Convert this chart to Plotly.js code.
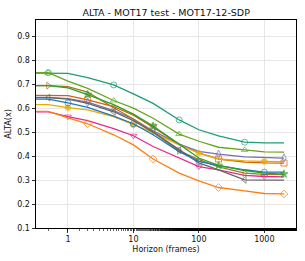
<!DOCTYPE html>
<html>
<head>
<meta charset="utf-8">
<script src="https://cdn.plot.ly/plotly-3.0.1.min.js"></script>
<style>html,body{margin:0;padding:0;background:#fff;}#chart{width:305px;height:261px;}</style>
</head>
<body>
<div id="chart"></div>
<script>
// Horizons (frames); the first value at horizon 0 is clipped to the left edge on a log axis
const horizons = [0.5, 1, 2, 5, 10, 20, 50, 100, 200, 500, 1000, 2000];

const seriesNames = ["teal", "orangeRed", "purple", "pink", "lime", "yellow", "brown", "gray", "blue", "orange", "green"];

const tealVals      = [0.748, 0.745, 0.728, 0.697, 0.660, 0.620, 0.551, 0.510, 0.484, 0.458, 0.455, 0.455];
const orangeRedVals = [0.655, 0.652, 0.635, 0.607, 0.571, 0.521, 0.450, 0.413, 0.388, 0.375, 0.372, 0.371];
const purpleVals    = [0.645, 0.640, 0.625, 0.590, 0.555, 0.505, 0.450, 0.420, 0.408, 0.397, 0.394, 0.392];
const pinkVals      = [0.585, 0.565, 0.548, 0.515, 0.485, 0.440, 0.394, 0.356, 0.343, 0.320, 0.315, 0.313];
const limeVals      = [0.748, 0.713, 0.683, 0.632, 0.600, 0.558, 0.492, 0.462, 0.437, 0.426, 0.418, 0.417];
const yellowVals    = [0.615, 0.602, 0.593, 0.565, 0.530, 0.498, 0.447, 0.413, 0.388, 0.380, 0.378, 0.377];
const brownVals     = [0.694, 0.690, 0.667, 0.602, 0.555, 0.500, 0.422, 0.385, 0.355, 0.329, 0.324, 0.323];
const grayVals      = [0.644, 0.638, 0.620, 0.585, 0.548, 0.500, 0.425, 0.372, 0.343, 0.301, 0.300, 0.300];
const blueVals      = [0.638, 0.622, 0.603, 0.567, 0.535, 0.489, 0.419, 0.378, 0.360, 0.343, 0.333, 0.333];
const orangeVals    = [0.587, 0.560, 0.535, 0.489, 0.447, 0.388, 0.329, 0.297, 0.269, 0.255, 0.244, 0.242];
const greenVals     = [0.694, 0.685, 0.657, 0.615, 0.575, 0.525, 0.450, 0.392, 0.361, 0.340, 0.329, 0.325];

const xTickVals = [1, 10, 100, 1000];
const xTickText = ["1", "10", "100", "1000"];
const yTickVals = [0.1, 0.2, 0.3, 0.4, 0.5, 0.6, 0.7, 0.8, 0.9];
const yTickText = ["0.1", "0.2", "0.3", "0.4", "0.5", "0.6", "0.7", "0.8", "0.9"];

const styles = {
  teal:      {color: "#1b9e77", symbol: "circle-open",       offset: 0},
  orangeRed: {color: "#d95f02", symbol: "square-open",       offset: 2},
  purple:    {color: "#7570b3", symbol: "diamond-tall-open", offset: 2},
  pink:      {color: "#e7298a", symbol: "triangle-down-open",offset: 1},
  lime:      {color: "#66a61e", symbol: "triangle-up-open",  offset: 0},
  yellow:    {color: "#e6ab02", symbol: "hexagon",           offset: 1},
  brown:     {color: "#a6761d", symbol: "triangle-right-open",offset: 0},
  gray:      {color: "#666666", symbol: "triangle-left-open",offset: 0},
  blue:      {color: "#1f77b4", symbol: "circle-open",       offset: 1},
  orange:    {color: "#ff7f0e", symbol: "diamond-open",      offset: 2},
  green:     {color: "#2ca02c", symbol: "star",              offset: 2}
};
const valsByName = {teal: tealVals, orangeRed: orangeRedVals, purple: purpleVals, pink: pinkVals,
  lime: limeVals, yellow: yellowVals, brown: brownVals, gray: grayVals, blue: blueVals,
  orange: orangeVals, green: greenVals};

const X_EDGE = 0.05; // stands in for horizon 0, clipped at the left edge
const traces = seriesNames.map(name => {
  const st = styles[name];
  const v = valsByName[name];
  const x = [X_EDGE].concat(horizons);
  const y = [v[0]].concat(v);
  const sizes = x.map((_, i) => (i > 0 && (i - 1) % 3 === st.offset) ? 6 : 0);
  return {
    type: "scatter", mode: "lines+markers", name: name, x: x, y: y,
    line: {color: st.color, width: 1.3},
    marker: {symbol: st.symbol, size: sizes, color: st.color, line: {color: st.color, width: 1}},
    cliponaxis: true, showlegend: false, hoverinfo: "skip"
  };
});

const layout = {
  width: 305, height: 261,
  margin: {l: 36, r: 9, t: 20, b: 33, pad: 0},
  paper_bgcolor: "#fff", plot_bgcolor: "#fff",
  font: {family: "DejaVu Sans", size: 8, color: "#222"},
  title: {text: "ALTA - MOT17 test - MOT17-12-SDP", font: {family: "DejaVu Sans", size: 9.5, color: "#111"},
          x: 0.545, xanchor: "center", y: 0.953, yanchor: "middle"},
  xaxis: {
    type: "log", range: [Math.log10(0.325), Math.log10(3050)],
    tickvals: xTickVals, ticktext: xTickText,
    ticks: "outside", ticklen: 3.5, tickwidth: 0.8, tickcolor: "#000",
    minor: {ticks: "outside", ticklen: 2, tickwidth: 0.6, tickcolor: "#000", showgrid: false},
    showgrid: true, gridcolor: "#e6e6e6", gridwidth: 1,
    showline: true, linecolor: "#000", linewidth: 1, mirror: true,
    zeroline: false,
    tickfont: {family: "DejaVu Sans", size: 8, color: "#111"},
    title: {text: "Horizon (frames)", font: {family: "DejaVu Sans", size: 8, color: "#111"}, standoff: 3}
  },
  yaxis: {
    range: [0.1, 0.968],
    tickvals: yTickVals, ticktext: yTickText,
    ticks: "outside", ticklen: 3.5, tickwidth: 0.8, tickcolor: "#000",
    showgrid: true, gridcolor: "#e6e6e6", gridwidth: 1,
    showline: true, linecolor: "#000", linewidth: 1, mirror: true,
    zeroline: false,
    tickfont: {family: "DejaVu Sans", size: 8, color: "#111"},
    title: {text: "ALTA(x)", font: {family: "DejaVu Sans", size: 8, color: "#111"}, standoff: 4}
  }
};

Plotly.newPlot("chart", traces, layout, {staticPlot: true, displayModeBar: false});
</script>
</body>
</html>
